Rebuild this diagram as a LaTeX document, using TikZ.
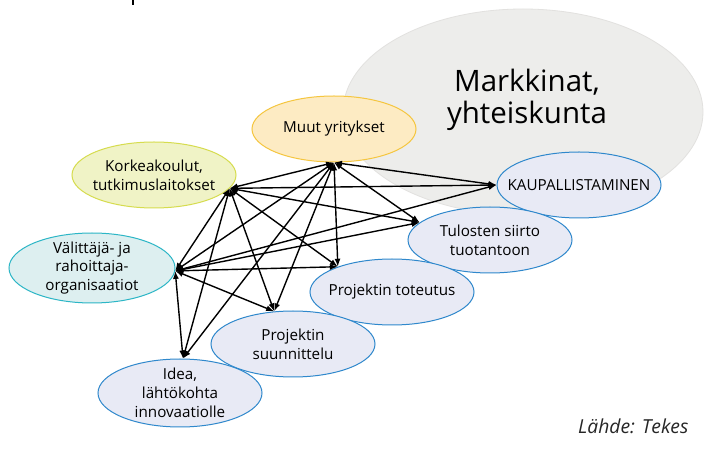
\documentclass[tikz,border=0pt]{standalone}
\usepackage{fontspec}
\setmainfont{Open Sans}
\usetikzlibrary{shapes.geometric,arrows.meta}
\definecolor{grayfill}{HTML}{EDEDEB}
\definecolor{grayline}{HTML}{E2E1DF}
\definecolor{orfill}{HTML}{FDEBC3}
\definecolor{orline}{HTML}{F5C63F}
\definecolor{yefill}{HTML}{F0F3C6}
\definecolor{yeline}{HTML}{D6DC4E}
\definecolor{cyfill}{HTML}{DDEFF0}
\definecolor{cyline}{HTML}{2CB6C6}
\definecolor{blfill}{HTML}{E8EAF5}
\definecolor{blline}{HTML}{2F88CC}
\tikzset{
  bubble/.style={ellipse, inner xsep=-22pt, inner ysep=-10pt, line width=1pt, align=center,
    minimum width=164pt, minimum height=66pt,
    font=\fontsize{15.2}{18.8}\selectfont},
  bluebub/.style={bubble, draw=blline, fill=blfill},
  link/.style={line width=1.4pt, {Latex[length=8pt,width=6pt]}-{Latex[length=8pt,width=6pt]}}
}
\begin{document}
\begin{tikzpicture}[x=1pt,y=-1pt]
\useasboundingbox (0,0) rectangle (710,454);
\fill[white] (0,0) rectangle (710,454);
% cut-off fragment at top
\draw[line width=1.8pt] (133,0) -- (133,5);
% market ellipse
\node[ellipse, draw=grayline, fill=grayfill, line width=0.8pt, minimum width=360pt, minimum height=206pt, inner sep=0pt] (mark) at (523,112) {};
\node[font=\fontsize{29.5}{32}\selectfont, align=center, inner sep=0pt] (marktxt) at (527,100) {Markkinat,\\yhteiskunta};
% nodes
\node[bubble, draw=orline, fill=orfill] (muut) at (334,129) {Muut yritykset};
\node[bubble, draw=yeline, fill=yefill] (kork) at (154,175) {Korkeakoulut,\\tutkimuslaitokset};
\node[bubble, draw=cyline, fill=cyfill, minimum width=166pt, minimum height=70pt] (vali) at (92,268) {Välittäjä- ja\\rahoittaja-\\organisaatiot};
\node[bluebub] (kaup) at (579,185) {KAUPALLISTAMINEN};
\node[bluebub] (tul) at (490,240) {Tulosten siirto\\tuotantoon};
\node[bluebub] (tot) at (392,292) {Projektin toteutus};
\node[bluebub] (suun) at (293,344) {Projektin\\suunnittelu};
\node[bluebub, minimum height=68pt] (idea) at (180,393) {Idea,\\lähtökohta\\innovaatiolle};
% connectors
\draw[link] (muut.south) -- (kork.-10);
\draw[link] (muut.south) -- (vali.-2);
\draw[link] (kork.-10) -- (vali.-2);
\foreach \h in {muut.south, kork.-10, vali.-2}{
  \draw[link] (\h) -- (kaup.west);
  \draw[link] (\h) -- (tul.166);
  \draw[link] (\h) -- (tot.155);
  \draw[link] (\h) -- (suun.120);
  \draw[link] (\h) -- (idea.85);
}
\node[anchor=base west, inner sep=0pt, font=\fontsize{19.3}{22}\selectfont\itshape, text=black!85] (src) at (578,433) {Lähde: Tekes};
\end{tikzpicture}
\end{document}
